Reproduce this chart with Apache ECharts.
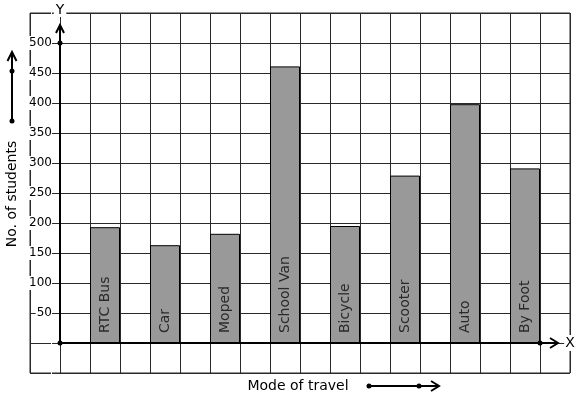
<!DOCTYPE html>
<html><head><meta charset="utf-8">
<script src="https://cdn.jsdelivr.net/npm/echarts@6/dist/echarts.min.js"></script>
<style>html,body{margin:0;padding:0;background:#fff}#c{width:577px;height:399px}</style>
</head><body><div id="c"></div>
<script>
const categories = ['RTC Bus', 'Car', 'Moped', 'School Van', 'Bicycle', 'Scooter', 'Auto', 'By Foot'];
const students = [193, 163, 182, 461, 195, 279, 398, 291];
const yTickLabels = [50, 100, 150, 200, 250, 300, 350, 400, 450, 500];
const xTitle = 'Mode of travel';
const yTitle = 'No. of students';
const xName = 'X';
const yName = 'Y';

const FONT = 'DejaVu Sans';
const GRID_COLOR = '#2a2a2a';
const chart = echarts.init(document.getElementById('c'), null, {renderer: 'canvas'});

chart.setOption({
  animation: false,
  backgroundColor: '#fff',
  grid: [
    {left: 30, right: 7, top: 13, bottom: 26, show: true, borderColor: GRID_COLOR, borderWidth: 1, backgroundColor: 'transparent'},
    {left: 75, right: 22, top: 13, bottom: 26}
  ],
  xAxis: [
    {type: 'value', gridIndex: 0, min: -1, max: 17, interval: 1,
     axisLine: {show: false}, axisTick: {show: false}, axisLabel: {show: false},
     splitLine: {show: true, lineStyle: {color: GRID_COLOR, width: 1}}},
    {type: 'category', gridIndex: 1, data: categories, boundaryGap: true,
     axisLine: {show: false}, axisTick: {show: false}, axisLabel: {show: false}, splitLine: {show: false}}
  ],
  yAxis: [
    {type: 'value', gridIndex: 0, min: -50, max: 550, interval: 50, offset: -30,
     axisLine: {show: false}, axisTick: {show: false},
     axisLabel: {
       margin: 8, color: '#000', fontFamily: FONT, fontSize: 12,
       backgroundColor: '#fff', padding: [1, 0, 1, 1],
       formatter: v => (yTickLabels.indexOf(v) >= 0 ? String(v) : '')
     },
     splitLine: {show: true, lineStyle: {color: GRID_COLOR, width: 1}}},
    {type: 'value', gridIndex: 1, min: -50, max: 550, interval: 50, show: false,
     splitLine: {show: false}}
  ],
  series: [{
    type: 'bar', xAxisIndex: 1, yAxisIndex: 1, data: students, barWidth: 30,
    itemStyle: {color: '#999999', borderColor: '#000', borderWidth: 1},
    label: {
      show: true, position: 'insideBottom', distance: 10, rotate: 90,
      align: 'left', verticalAlign: 'middle', formatter: '{b}',
      color: '#2a2a2a', fontFamily: FONT, fontSize: 14
    },
    z: 3
  }]
});

function px(v) { return chart.convertToPixel({xAxisIndex: 0, yAxisIndex: 0}, v); }
const O = px([0, 0]);
const yTop = px([0, 530]);
const y500 = px([0, 500]);
const xEnd = px([16.6, 0]);
const x16 = px([16, 0]);
const black = {stroke: '#000', lineWidth: 2, fill: null};
const dot = (x, y) => ({type: 'circle', shape: {cx: x, cy: y, r: 2.5}, style: {fill: '#000'}, z: 20});

chart.setOption({
  graphic: [
    // Y axis
    {type: 'line', shape: {x1: O[0], y1: O[1], x2: yTop[0], y2: yTop[1] + 1}, style: black, z: 10},
    {type: 'polyline', shape: {points: [[yTop[0] - 4, yTop[1] + 8], [yTop[0], yTop[1]], [yTop[0] + 4, yTop[1] + 8]]}, style: black, z: 10},
    dot(y500[0], y500[1]),
    // X axis
    {type: 'line', shape: {x1: O[0], y1: O[1], x2: xEnd[0] - 1, y2: xEnd[1]}, style: black, z: 10},
    {type: 'polyline', shape: {points: [[xEnd[0] - 8, xEnd[1] - 5], [xEnd[0], xEnd[1]], [xEnd[0] - 8, xEnd[1] + 5]]}, style: black, z: 10},
    dot(x16[0], x16[1]),
    dot(O[0], O[1]),
    // axis names
    {type: 'text', x: 570, y: O[1], z: 20, style: {text: xName, font: '14px "DejaVu Sans"', fill: '#000', align: 'center', verticalAlign: 'middle', backgroundColor: '#fff', padding: [1, 1]}},
    {type: 'text', x: 60, y: 10, z: 20, style: {text: yName, font: '14px "DejaVu Sans"', fill: '#000', align: 'center', verticalAlign: 'middle', backgroundColor: '#fff', padding: [0, 2]}},
    // left title + arrow
    {type: 'text', x: 12, y: 194, rotation: Math.PI / 2, z: 20, style: {text: yTitle, font: '14px "DejaVu Sans"', fill: '#000', align: 'center', verticalAlign: 'middle'}},
    {type: 'line', shape: {x1: 12, y1: 121, x2: 12, y2: 53}, style: black, z: 10},
    {type: 'polyline', shape: {points: [[7.5, 61], [12, 52], [16.5, 61]]}, style: black, z: 10},
    dot(12, 71), dot(12, 121),
    // bottom title + arrow
    {type: 'text', x: 298, y: 386, z: 20, style: {text: xTitle, font: '14px "DejaVu Sans"', fill: '#000', align: 'center', verticalAlign: 'middle'}},
    {type: 'line', shape: {x1: 369, y1: 386, x2: 438, y2: 386}, style: black, z: 10},
    {type: 'polyline', shape: {points: [[431, 381], [439, 386], [431, 391]]}, style: black, z: 10},
    dot(369, 386), dot(419, 386)
  ]
});
</script></body></html>
